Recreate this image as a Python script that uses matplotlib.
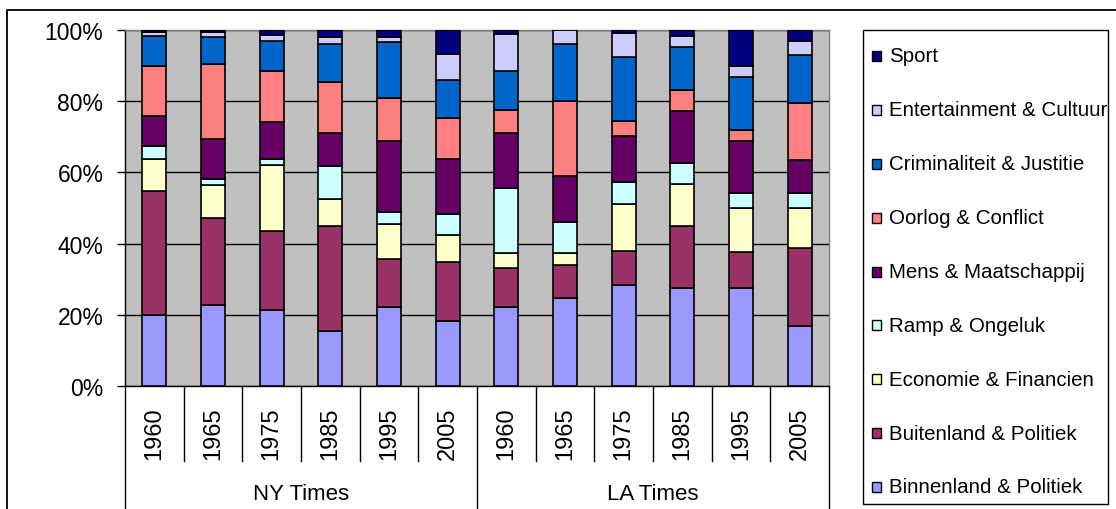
import matplotlib
matplotlib.use("Agg")
import matplotlib.pyplot as plt
import numpy as np
from matplotlib.patches import Rectangle

plt.rcParams['font.family'] = ['Liberation Sans', 'DejaVu Sans']

# Categories
newspapers = ["NY Times", "LA Times"]
years = ["1960", "1965", "1975", "1985", "1995", "2005"]

# Topics, stacked from bottom to top
topics = [
    "Binnenland & Politiek",
    "Buitenland & Politiek",
    "Economie & Financien",
    "Ramp & Ongeluk",
    "Mens & Maatschappij",
    "Oorlog & Conflict",
    "Criminaliteit & Justitie",
    "Entertainment & Cultuur",
    "Sport",
]
topic_colors = ["#9999FF", "#993366", "#FFFFCC", "#CCFFFF", "#660066",
                "#FF8080", "#0066CC", "#CCCCFF", "#000080"]

# Share of articles per topic (%), NY Times 1960..2005 then LA Times 1960..2005
binnenland = [19.9, 22.6, 21.3, 15.5, 22.2, 18.2, 22.2, 24.8, 28.4, 27.4, 27.4, 16.9]
buitenland = [34.8, 24.6, 22.3, 29.5, 13.5, 16.7, 10.9, 9.3, 9.6, 17.6, 10.3, 21.9]
economie = [9.1, 9.3, 18.6, 7.5, 9.8, 7.6, 4.2, 3.2, 13.1, 11.8, 12.2, 11.1]
ramp = [3.5, 1.7, 1.6, 9.3, 3.5, 5.7, 18.2, 8.7, 6.2, 5.8, 4.4, 4.4]
mens = [8.5, 11.1, 10.3, 9.3, 19.8, 15.6, 15.6, 13.1, 12.8, 14.6, 14.5, 9.2]
oorlog = [14.1, 21.1, 14.5, 14.4, 12.2, 11.5, 6.5, 21.0, 4.3, 6.0, 3.0, 15.9]
criminaliteit = [8.3, 7.5, 8.2, 10.6, 15.5, 10.7, 10.9, 16.0, 18.1, 11.9, 15.1, 13.6]
entertainment = [1.3, 1.4, 1.9, 1.8, 1.4, 7.3, 10.3, 3.9, 6.7, 3.1, 2.9, 3.9]
sport = [0.5, 0.6, 1.3, 2.1, 2.1, 6.7, 1.2, 0.0, 0.8, 1.8, 10.2, 3.1]

series = [binnenland, buitenland, economie, ramp, mens, oorlog,
          criminaliteit, entertainment, sport]

W, H = 1116, 510
fig = plt.figure(figsize=(W / 100, H / 100), dpi=100)
fig.patch.set_facecolor("white")


def fx(px):
    return px / W


def fy(py):
    return 1 - py / H


# plot area (pixel box: x 125..829, y 31..387)
PL, PR, PT, PB = 125, 829, 31, 387
ax = fig.add_axes([fx(PL), fy(PB), fx(PR) - fx(PL), fy(PT) - fy(PB)])
ax.set_facecolor("#C0C0C0")
ax.set_axisbelow(True)

values = np.array(series, dtype=float)
shares = values / values.sum(axis=0) * 100
n = values.shape[1]
xpos = np.arange(n)
bottom = np.zeros(n)
for vals, color in zip(shares, topic_colors):
    ax.bar(xpos, vals, 0.41, bottom=bottom, color=color,
           edgecolor="black", linewidth=1.2, zorder=3)
    bottom += vals

ax.set_xlim(-0.5, n - 0.5)
ax.set_ylim(0, 100)
ax.set_yticks(range(0, 101, 20))
ax.set_yticklabels([f"{v}%" for v in range(0, 101, 20)], fontsize=16.5)
ax.yaxis.grid(True, color="black", linewidth=1.0)
ax.set_xticks([])
ax.tick_params(axis="y", length=5.5, width=1, direction="out", pad=10,
               colors="black")
for side in ("top", "right"):
    ax.spines[side].set_color("#808080")
    ax.spines[side].set_linewidth(1.0)
for side in ("left", "bottom"):
    ax.spines[side].set_color("black")
    ax.spines[side].set_linewidth(1.0)

# multi-level category axis
tr = ax.get_xaxis_transform()
ppy = PB - PT
year_sep_y = -(462 - PB) / ppy
group_sep_y = -(515 - PB) / ppy
for i in range(n - 1):
    b = i + 0.5
    if (i + 1) % len(years) == 0:
        continue
    ax.plot([b, b], [0, year_sep_y], color="black", lw=1.0,
            transform=tr, clip_on=False)
for b in (-0.5, len(years) - 0.5, n - 0.5):
    ax.plot([b, b], [0, group_sep_y], color="black", lw=1.0,
            transform=tr, clip_on=False)

for g, paper in enumerate(newspapers):
    for j, yr in enumerate(years):
        i = g * len(years) + j
        ax.text(i, -(434 - PB) / ppy, yr, rotation=90, ha="center",
                va="center", fontsize=17, transform=tr)
    ax.text(g * len(years) + (len(years) - 1) / 2, -(495 - PB) / ppy, paper,
            ha="center", va="center", fontsize=16, transform=tr)

# legend box
LL, LR, LT, LB = 863, 1108, 31, 505
fig.add_artist(Rectangle((fx(LL), fy(LB)), fx(LR) - fx(LL), fy(LT) - fy(LB),
                         transform=fig.transFigure, facecolor="white",
                         edgecolor="black", linewidth=1.0))
step = (488 - 57) / (len(topics) - 1)
for k, (name, color) in enumerate(zip(topics[::-1], topic_colors[::-1])):
    yc = 57 + k * step
    fig.add_artist(Rectangle((fx(872), fy(yc + 5)), fx(881) - fx(872),
                             fy(yc - 5) - fy(yc + 5),
                             transform=fig.transFigure, facecolor=color,
                             edgecolor="black", linewidth=1.0))
    fig.text(fx(889), fy(yc), name, ha="left", va="center", fontsize=14.8)

# chart outer border
fig.add_artist(Rectangle((fx(7), fy(H + 20)), fx(W + 20) - fx(7),
                         fy(11) - fy(H + 20), transform=fig.transFigure,
                         fill=False, edgecolor="black", linewidth=1.3))

fig.savefig("out.png", dpi=100)
